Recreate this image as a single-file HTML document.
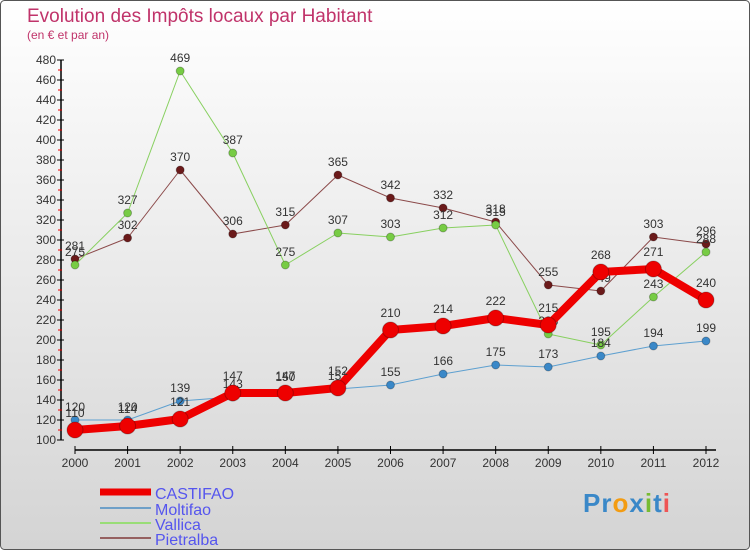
<!DOCTYPE html>
<html><head><meta charset="utf-8"><style>
body{margin:0;width:750px;height:550px;overflow:hidden;font-family:"Liberation Sans",sans-serif}
svg text{font-family:"Liberation Sans",sans-serif}
</style></head><body>
<svg id="c" width="750" height="550" xmlns="http://www.w3.org/2000/svg">
<defs><linearGradient id="bg" x1="0" y1="0" x2="0" y2="1"><stop offset="0" stop-color="#ffffff"/><stop offset="1" stop-color="#d4d4d4"/></linearGradient></defs>
<rect x="0.5" y="0.5" width="749" height="549" rx="4" fill="url(#bg)" stroke="#555"/>
<text x="27" y="22" font-size="19" fill="#c0336a">Evolution des Impôts locaux par Habitant</text>
<text x="27" y="39" font-size="12" fill="#c0336a">(en € et par an)</text>
<g id="axes"></g><g id="series"></g><g id="legend"></g>
</svg>
<script>
const years=[2000,2001,2002,2003,2004,2005,2006,2007,2008,2009,2010,2011,2012];
const castifao=[110,114,121,147,147,152,210,214,222,215,268,271,240];
const moltifao=[120,120,139,143,150,151,155,166,175,173,184,194,199];
const vallica=[275,327,469,387,275,307,303,312,315,206,195,243,288];
const pietralba=[281,302,370,306,315,365,342,332,318,255,249,303,296];
const yTicks=[100,120,140,160,180,200,220,240,260,280,300,320,340,360,380,400,420,440,460,480];
const NS="http://www.w3.org/2000/svg";
function X(i){return 75+i*(706-75)/(years.length-1);}
function Y(v){return 440-(v-100)*(380/380);}
function mk(t,a,p){const e=document.createElementNS(NS,t);for(const k in a)e.setAttribute(k,a[k]);p.appendChild(e);return e;}
const ax=document.getElementById('axes');
let l=mk('line',{x1:61,y1:Y(480),x2:61,y2:Y(100),stroke:'#000','stroke-width':1.5},ax);


yTicks.forEach(v=>{
 mk('line',{x1:57,y1:Y(v),x2:64,y2:Y(v),stroke:'#000'},ax);
 if(v<480)mk('line',{x1:58,y1:Y(v+10),x2:62,y2:Y(v+10),stroke:'#e00'},ax);
 const t=mk('text',{x:56,y:Y(v)+4,'text-anchor':'end','font-size':12,fill:'#333'},ax);t.textContent=v;
 
 
});
l=mk('line',{x1:X(0),y1:450,x2:X(12)+10,y2:450,stroke:'#000','stroke-width':1.5},ax);


years.forEach((y,i)=>{
 mk('line',{x1:X(i),y1:446,x2:X(i),y2:454,stroke:'#000'},ax);
 const t=mk('text',{x:X(i),y:467,'text-anchor':'middle','font-size':12,fill:'#333'},ax);t.textContent=y;
 
 
});
const S=document.getElementById('series');
const defs=[
 {n:'pietralba',d:pietralba,c:'#6b1a1a',lc:'#8b4a4a',w:1,r:4},
 {n:'vallica',d:vallica,c:'#77cc44',lc:'#88d060',w:1,r:4},
 {n:'moltifao',d:moltifao,c:'#3a88c8',lc:'#5ea0d0',w:1,r:4},
 {n:'castifao',d:castifao,c:'#ee0000',lc:'#ee0000',w:8,r:8}];
defs.forEach(s=>{
 const g=mk('g',{},S);
 
 
 const p=mk('polyline',{points:s.d.map((v,i)=>X(i)+','+Y(v)).join(' '),fill:'none',stroke:s.lc,'stroke-width':s.w,'stroke-linejoin':'round'},g);
 
 
 s.d.forEach((v,i)=>{
  const c=mk('circle',{cx:X(i),cy:Y(v),r:s.r,fill:s.c,stroke:'rgba(0,0,0,0.25)'},g);
  
  
  const t=mk('text',{x:X(i),y:Y(v)-(s.r+5),'text-anchor':'middle','font-size':12,fill:'#333'},g);t.textContent=v;
  
  
 });
});
const L=document.getElementById('legend');
[['CASTIFAO','#ee0000',7,492],['Moltifao','#6fa0c8',2,508],['Vallica','#99dd77',2,523],['Pietralba','#956060',2,538]].forEach(e=>{
 const g=mk('g',{},L);
 
 
 mk('line',{x1:100,y1:e[3],x2:151,y2:e[3],stroke:e[1],'stroke-width':e[2]},g);
 const t=mk('text',{x:155,y:e[3]+7,'font-size':16,fill:'#5555ee'},g);t.textContent=e[0];
});
</script>
<div style="position:absolute;left:583px;top:488px;font:bold 26px 'Liberation Sans',sans-serif;letter-spacing:1px"><span style="color:#3a88c8">Pr</span><span style="color:#f39c12">o</span><span style="color:#3a88c8">x</span><span style="color:#77bb33">i</span><span style="color:#3a88c8">t</span><span style="color:#ee5555">i</span></div>
</body></html>
